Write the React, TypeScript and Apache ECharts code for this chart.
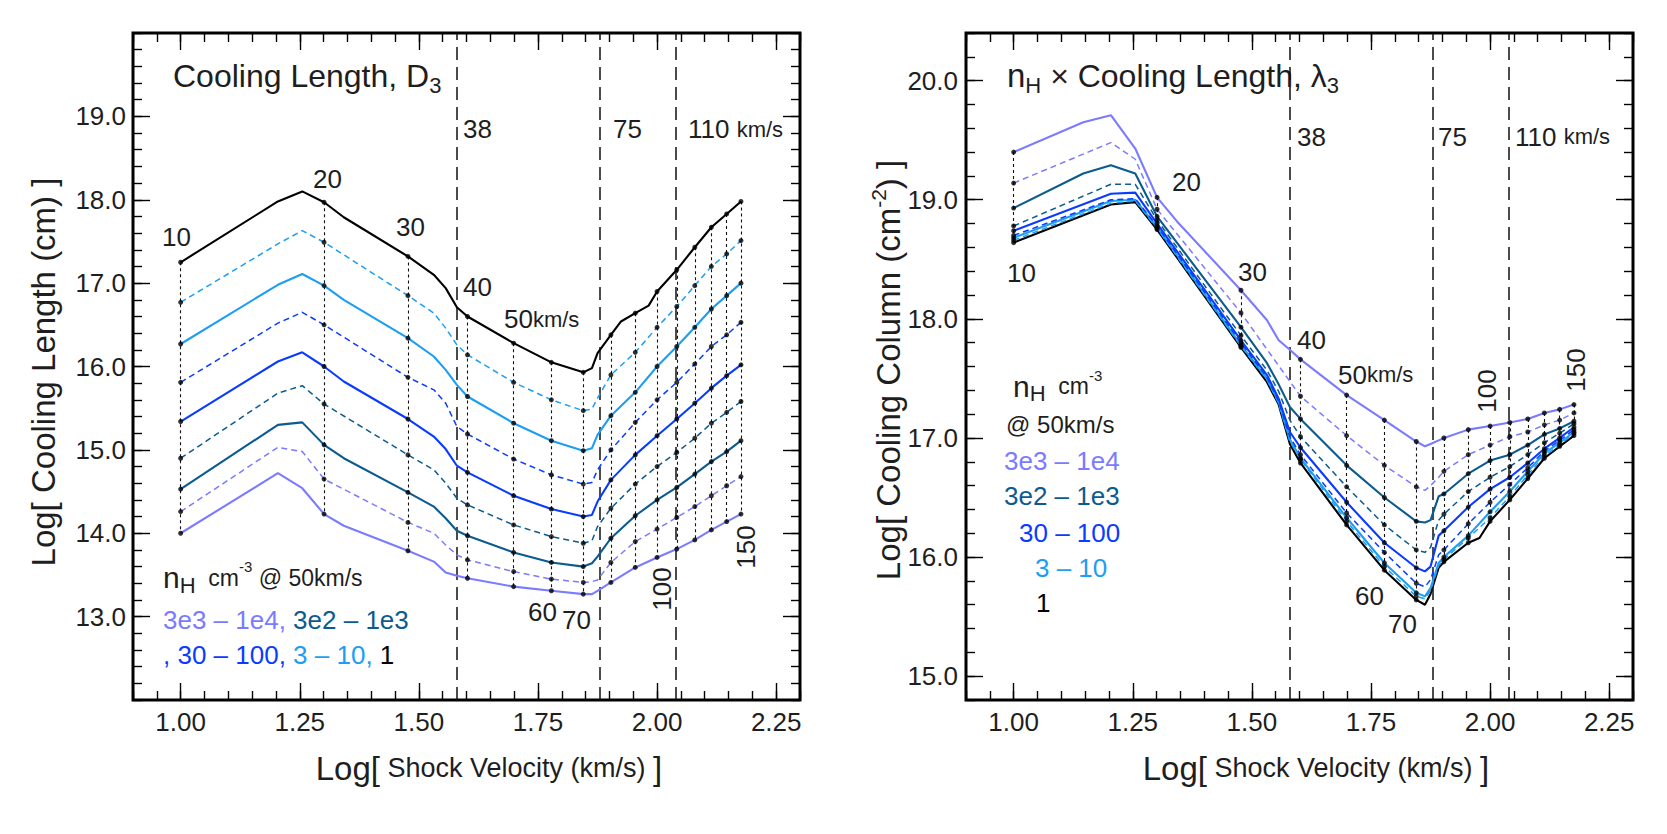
import React, { useEffect, useRef } from "react";
import * as echarts from "echarts";

// Shock velocities (km/s) at which each panel's curves are sampled
const velocityLeft = [10, 16, 18, 20, 22, 30, 34, 36, 38, 40, 50, 60, 70, 73, 75, 80, 84, 90, 96, 100, 110, 120, 130, 140, 150];
const velocityRight = [10, 14, 16, 18, 20, 22, 30, 34, 36, 38, 40, 50, 60, 70, 73, 75, 78, 80, 90, 95, 100, 110, 120, 130, 140, 150];
// Velocities marked with dots and joined by dotted verticals
const dotVelocities = [10, 20, 30, 40, 50, 60, 70, 80, 90, 100, 110, 120, 130, 140, 150];
// Long-dashed boundary velocities
const boundaryVelocities = [38, 75, 110];

// Log cooling length D3 (cm), by preshock density n_H (cm^-3)
const lengthN1 = [17.25, 17.98, 18.1, 17.97, 17.79, 17.32, 17.1, 16.94, 16.71, 16.6, 16.28, 16.05, 15.93, 15.98, 16.16, 16.38, 16.54, 16.64, 16.73, 16.9, 17.16, 17.43, 17.67, 17.83, 17.98];
const lengthN3 = [16.77, 17.47, 17.63, 17.49, null, 16.85, 16.64, 16.46, 16.26, 16.14, 15.81, 15.6, 15.47, 15.49, 15.62, 15.9, null, 16.17, null, 16.47, 16.72, 16.97, 17.2, 17.35, 17.51];
const lengthN10 = [16.27, 16.98, 17.11, 16.97, 16.8, 16.34, 16.12, 15.96, 15.78, 15.64, 15.32, 15.11, 14.99, 15.02, 15.18, 15.41, null, 15.69, null, 16.0, 16.24, 16.47, 16.69, 16.85, 17.0];
const lengthN30 = [15.81, 16.52, 16.65, 16.5, null, 15.87, 15.72, 15.56, 15.28, 15.19, 14.89, 14.7, 14.59, 14.61, 14.76, 15.0, null, 15.33, null, 15.6, 15.81, 16.03, 16.24, 16.38, 16.53];
const lengthN100 = [15.34, 16.06, 16.17, 16.0, 15.82, 15.37, 15.16, 15.01, 14.81, 14.73, 14.45, 14.29, 14.2, 14.22, 14.38, 14.64, null, 14.94, null, 15.17, 15.37, 15.56, 15.74, 15.89, 16.02];
const lengthN300 = [14.9, 15.68, 15.77, 15.55, null, 14.94, 14.76, 14.6, 14.42, 14.34, 14.1, 13.96, 13.88, 13.91, 14.08, 14.3, null, 14.59, null, 14.8, 14.97, 15.14, 15.32, 15.45, 15.58];
const lengthN1e3 = [14.53, 15.3, 15.33, 15.06, 14.9, 14.49, 14.32, 14.18, 14.03, 13.97, 13.77, 13.65, 13.6, 13.64, 13.72, 13.94, null, 14.21, null, 14.4, 14.55, 14.71, 14.86, 14.98, 15.11];
const lengthN3e3 = [14.26, 15.03, 14.98, 14.65, null, 14.13, 14.0, 13.86, 13.74, 13.68, 13.54, 13.45, 13.41, 13.42, 13.44, 13.65, null, 13.9, null, 14.05, 14.19, 14.32, 14.45, 14.57, 14.68];
const lengthN1e4 = [14.0, 14.72, 14.54, 14.23, 14.09, 13.79, 13.66, 13.53, 13.49, 13.46, 13.36, 13.31, 13.27, 13.27, 13.31, 13.41, null, 13.59, null, 13.71, 13.81, 13.92, 14.04, 14.14, 14.23];

// Log cooling column n_H x D3 (cm^-2), by preshock density
const columnN1 = [18.64, null, 18.96, 18.98, 18.75, null, 17.76, 17.47, 17.28, 16.95, 16.79, 16.27, 15.89, 15.64, 15.6, 15.69, 15.91, 15.96, 16.12, 16.16, 16.3, 16.48, 16.66, 16.83, 16.93, 17.02];
const columnN3 = [18.66, null, 18.97, 18.99, 18.76, null, 17.77, 17.49, 17.29, 16.97, 16.82, 16.3, 15.92, 15.67, 15.65, 15.72, 15.93, 15.98, 16.16, null, 16.33, 16.51, 16.69, 16.85, 16.94, 17.04];
const columnN10 = [18.68, null, 18.99, 19.0, 18.77, null, 17.78, 17.5, 17.3, 16.99, 16.83, 16.33, 15.95, 15.7, 15.67, 15.74, 15.95, 16.0, 16.18, null, 16.38, 16.55, 16.72, 16.87, 16.96, 17.05];
const columnN30 = [18.7, null, 19.0, 19.01, 18.78, null, 17.8, 17.51, 17.31, 17.01, 16.86, 16.37, 16.04, 15.78, 15.75, 15.81, 16.02, 16.06, 16.28, null, 16.46, 16.61, 16.75, 16.89, 16.98, 17.07];
const columnN100 = [18.74, null, 19.05, 19.06, 18.8, null, 17.82, 17.53, 17.33, 17.05, 16.92, 16.46, 16.12, 15.91, 15.88, 15.92, 16.18, 16.22, 16.42, null, 16.57, 16.67, 16.79, 16.91, 17.0, 17.09];
const columnN300 = [18.78, null, 19.13, 19.13, 18.83, null, 17.86, 17.57, 17.39, 17.15, 17.01, 16.59, 16.27, 16.06, 16.04, 16.08, 16.31, 16.36, 16.55, null, 16.67, 16.76, 16.86, 16.96, 17.04, 17.12];
const columnN1e3 = [18.93, 19.22, 19.29, 19.22, 18.86, null, 17.93, 17.63, 17.45, 17.26, 17.16, 16.77, 16.5, 16.3, 16.29, 16.31, 16.51, 16.53, 16.7, null, 16.81, 16.86, 16.94, 17.03, 17.08, 17.14];
const columnN3e3 = [19.14, null, 19.48, 19.34, 18.92, null, 18.05, null, null, null, 17.35, 17.02, 16.77, 16.59, 16.56, 16.6, 16.67, 16.72, 16.86, null, 16.94, 17.01, 17.05, 17.11, 17.15, 17.21];
const columnN1e4 = [19.4, 19.65, 19.71, 19.43, 19.02, 18.82, 18.24, 17.99, 17.82, 17.74, 17.66, 17.36, 17.15, 16.97, 16.93, 16.95, 16.98, 17.0, 17.07, null, 17.1, 17.13, 17.16, 17.21, 17.24, 17.28];

const PURPLE = "#7b7bff";
const TEAL = "#0b5b8f";
const BLUE = "#0a3cff";
const SKY = "#1c9ef2";
const BLACK = "#000000";
const INK = "#1e1e1e";
const FONT = "'Liberation Sans', Arial, Helvetica, sans-serif";

const curves = [
  { name: "n=1", color: BLACK, dashed: false, left: lengthN1, right: columnN1 },
  { name: "n=3", color: SKY, dashed: true, left: lengthN3, right: columnN3 },
  { name: "n=10", color: SKY, dashed: false, left: lengthN10, right: columnN10 },
  { name: "n=30", color: BLUE, dashed: true, left: lengthN30, right: columnN30 },
  { name: "n=100", color: BLUE, dashed: false, left: lengthN100, right: columnN100 },
  { name: "n=300", color: TEAL, dashed: true, left: lengthN300, right: columnN300 },
  { name: "n=1e3", color: TEAL, dashed: false, left: lengthN1e3, right: columnN1e3 },
  { name: "n=3e3", color: PURPLE, dashed: true, left: lengthN3e3, right: columnN3e3 },
  { name: "n=1e4", color: PURPLE, dashed: false, left: lengthN1e4, right: columnN1e4 },
];

const steps = (start: number, stop: number, step: number) => {
  const out: number[] = [];
  for (let k = 0; start + k * step <= stop + 1e-9; k++) out.push(Math.round((start + k * step) * 1000) / 1000);
  return out;
};

function frameAxes(dim: "x" | "y", gridIndex: number, min: number, max: number, majors: number[], minors: number[], digits: number, margin: number) {
  const sides = dim === "x" ? ["bottom", "top"] : ["left", "right"];
  const base = { type: "value", gridIndex, min, max, splitLine: { show: false }, axisLine: { show: false } };
  const tick = (values: number[], length: number) => ({
    show: true,
    inside: true,
    length,
    customValues: values,
    lineStyle: { color: "#000", width: 1.4 },
  });
  return [
    {
      ...base,
      position: sides[0],
      axisTick: tick(majors, 17),
      axisLabel: {
        show: true,
        customValues: majors,
        formatter: (v: number) => v.toFixed(digits),
        fontSize: 26,
        fontFamily: FONT,
        color: INK,
        margin,
      },
    },
    { ...base, position: sides[0], axisTick: tick(minors, 9), axisLabel: { show: false } },
    { ...base, position: sides[1], axisTick: tick(majors, 17), axisLabel: { show: false } },
    { ...base, position: sides[1], axisTick: tick(minors, 9), axisLabel: { show: false } },
  ];
}

function panelSeries(panel: "left" | "right", axisIndex: number) {
  const vel = panel === "left" ? velocityLeft : velocityRight;
  const lines = curves.map((c) => {
    const vals = c[panel] as (number | null)[];
    const data: number[][] = [];
    vals.forEach((y, i) => {
      if (y !== null) data.push([Math.log10(vel[i]), y]);
    });
    return {
      type: "line",
      name: `${panel} ${c.name}`,
      xAxisIndex: axisIndex,
      yAxisIndex: axisIndex,
      data,
      symbol: "none",
      showSymbol: false,
      silent: true,
      z: 3,
      lineStyle: { color: c.color, width: c.dashed ? 1.5 : 2.1, type: c.dashed ? [6, 4] : "solid" },
    };
  });

  const dots: number[][] = [];
  const verticals: any[] = [];
  dotVelocities.forEach((v) => {
    const i = vel.indexOf(v);
    const vals = curves.map((c) => (c[panel] as (number | null)[])[i]).filter((y) => y !== null) as number[];
    const x = Math.log10(v);
    vals.forEach((y) => dots.push([x, y]));
    verticals.push([{ coord: [x, Math.max(...vals)] }, { coord: [x, Math.min(...vals)] }]);
  });

  const boundaries = boundaryVelocities.map((v) => ({
    xAxis: Math.log10(v),
    lineStyle: { color: "#111", width: 1.5, type: [13, 7] },
  }));

  const scatter = {
    type: "scatter",
    name: `${panel} samples`,
    xAxisIndex: axisIndex,
    yAxisIndex: axisIndex,
    data: dots,
    symbol: "circle",
    symbolSize: 5,
    itemStyle: { color: "#000" },
    silent: true,
    z: 4,
    markLine: {
      silent: true,
      symbol: ["none", "none"],
      label: { show: false },
      lineStyle: { color: "#111", width: 1.1, type: [3, 3] },
      data: [...verticals, ...boundaries],
      z: 2,
    },
  };
  return [...lines, scatter];
}

// Text helpers: rich tokens and placement by baseline
const tok = (size: number, color = INK, verticalAlign?: string, lineHeight?: number) => ({
  fontSize: size,
  fontFamily: FONT,
  fill: color,
  ...(verticalAlign ? { verticalAlign } : {}),
  ...(lineHeight ? { lineHeight } : {}),
});

const label = (x: number, baseline: number, text: string, size: number, rich?: any, color = INK) => ({
  type: "text",
  x,
  y: baseline - 0.35 * size,
  silent: true,
  style: { text, rich, fontSize: size, fontFamily: FONT, fill: color, align: "left", verticalAlign: "middle" },
});

const turned = (x: number, y: number, text: string, size: number, rich?: any) => ({
  type: "text",
  x,
  y,
  rotation: Math.PI / 2,
  silent: true,
  style: { text, rich, fontSize: size, fontFamily: FONT, fill: INK, align: "center", verticalAlign: "middle" },
});

const kmsRich = { a: tok(26), b: tok(22) };
const subTitleRich = (size: number) => ({
  m: tok(size, INK, undefined, size * 1.3),
  s: tok(22, INK, "bottom"),
});
const nHRich = {
  n: tok(30, INK, undefined, 37),
  h: tok(22, INK, "bottom"),
  t: tok(23),
  e: tok(15, INK, "top"),
};
const velocityTitleRich = { a: tok(33), b: tok(27) };

const graphics = [
  // left panel annotations
  label(173, 86.7, "{m|Cooling Length, D}{s|3}", 32, subTitleRich(32)),
  label(463, 138.3, "38", 26),
  label(613, 138.3, "75", 26),
  label(688, 138.3, "{a|110 }{b|km/s}", 26, kmsRich),
  label(313, 187.7, "20", 26),
  label(162, 246, "10", 26),
  label(396, 236, "30", 26),
  label(463, 296, "40", 26),
  label(504, 328.3, "{a|50}{b|km/s}", 26, kmsRich),
  label(528, 620.7, "60", 26),
  label(562, 629.3, "70", 26),
  turned(662, 589, "100", 26),
  turned(746, 547, "150", 26),
  label(163, 588.3, "{n|n}{h|H}{t|  cm}{e|-3}{t| @ 50km/s}", 30, nHRich),
  label(163, 629.3, "{p|3e3 – 1e4, }{q|3e2 – 1e3}", 26, { p: tok(26, PURPLE), q: tok(26, TEAL) }),
  label(163, 664.3, "{b|, 30 – 100, }{c|3 – 10, }{k|1}", 26, { b: tok(26, BLUE), c: tok(26, SKY), k: tok(26, BLACK) }),

  // right panel annotations
  label(1007, 86.7, "{n|n}{h|H}{m| × Cooling Length, λ}{s|3}", 32, {
    n: tok(33, INK, undefined, 42),
    h: tok(22, INK, "bottom"),
    m: tok(32, INK, undefined, 42),
    s: tok(22, INK, "bottom"),
  }),
  label(1297, 146, "38", 26),
  label(1438, 146, "75", 26),
  label(1515, 146, "{a|110 }{b|km/s}", 26, kmsRich),
  label(1172, 190.7, "20", 26),
  label(1007, 281.7, "10", 26),
  label(1238, 281, "30", 26),
  label(1297, 349.3, "40", 26),
  label(1338, 384, "{a|50}{b|km/s}", 26, kmsRich),
  label(1355, 605, "60", 26),
  label(1388, 632.7, "70", 26),
  turned(1487, 391, "100", 26),
  turned(1576, 370, "150", 26),
  label(1013, 396.7, "{n|n}{h|H}{t|  cm}{e|-3}", 30, nHRich),
  label(1006, 432.7, "@ 50km/s", 24),
  label(1004, 470, "3e3 – 1e4", 26, undefined, PURPLE),
  label(1004, 505, "3e2 – 1e3", 26, undefined, TEAL),
  label(1019, 541.7, "30 – 100", 26, undefined, BLUE),
  label(1035, 576.7, "3 – 10", 26, undefined, SKY),
  label(1036, 611.7, "1", 26, undefined, BLACK),

  // axis titles
  {
    type: "text",
    x: 489,
    y: 768,
    silent: true,
    style: { text: "{a|Log[}{b| Shock Velocity (km/s) }{a|]}", rich: velocityTitleRich, align: "center", verticalAlign: "middle" },
  },
  {
    type: "text",
    x: 1316,
    y: 768,
    silent: true,
    style: { text: "{a|Log[}{b| Shock Velocity (km/s) }{a|]}", rich: velocityTitleRich, align: "center", verticalAlign: "middle" },
  },
  turned(43, 372, "Log[ Cooling Length (cm) ]", 33),
  turned(888, 370, "{a|Log[ Cooling Column (cm}{s|-2}{a|) ]}", 33, { a: tok(33, INK, undefined, 41), s: tok(21, INK, "top") }),
];

export default function App() {
  const ref = useRef<HTMLDivElement>(null);

  useEffect(() => {
    document.body.style.margin = "0";
    if (!ref.current) return;
    const chart = echarts.init(ref.current, undefined, { renderer: "svg" });

    const xMajors = steps(1, 2.25, 0.25);
    const xMinors = steps(0.9, 2.3, 0.05);

    chart.setOption({
      animation: false,
      backgroundColor: "#ffffff",
      grid: [
        { left: 133, top: 33, width: 667, height: 667, show: true, borderColor: "#000", borderWidth: 3, backgroundColor: "transparent" },
        { left: 966, top: 33, width: 667, height: 667, show: true, borderColor: "#000", borderWidth: 3, backgroundColor: "transparent" },
      ],
      xAxis: [
        ...frameAxes("x", 0, 0.9, 2.3, xMajors, xMinors, 2, 9),
        ...frameAxes("x", 1, 0.9, 2.3, xMajors, xMinors, 2, 9),
      ],
      yAxis: [
        ...frameAxes("y", 0, 12, 20, steps(13, 19, 1), steps(12, 20, 0.2), 1, 7),
        ...frameAxes("y", 1, 14.8, 20.4, steps(15, 20, 1), steps(14.8, 20.4, 0.2), 1, 8),
      ],
      series: [...panelSeries("left", 0), ...panelSeries("right", 4)],
      graphic: { elements: graphics },
    });

    return () => chart.dispose();
  }, []);

  return <div ref={ref} style={{ width: 1667, height: 834 }} />;
}
